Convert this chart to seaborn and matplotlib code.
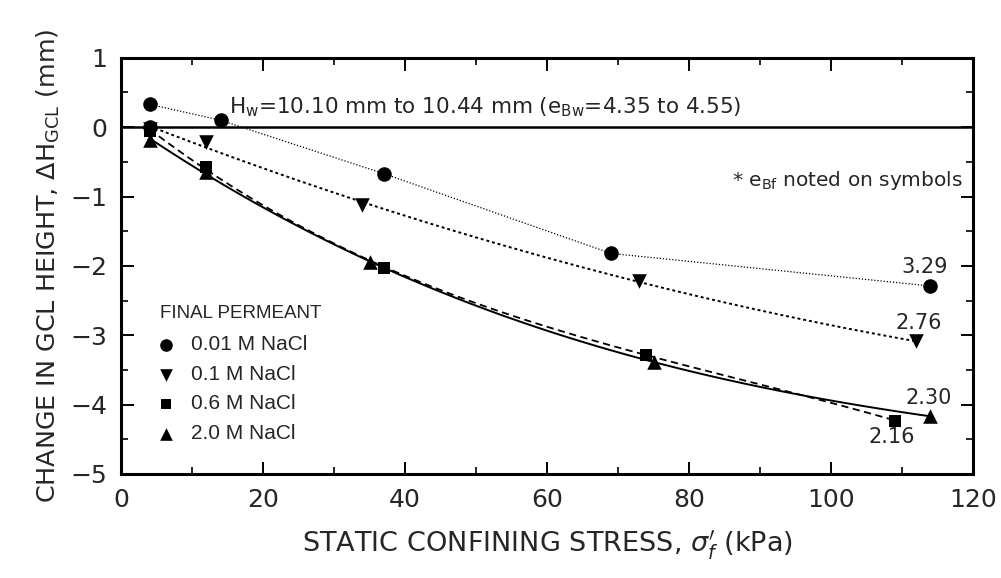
import matplotlib
matplotlib.use("Agg")
import matplotlib.pyplot as plt
import seaborn as sns
import pandas as pd
from matplotlib.ticker import MultipleLocator

# ---- data ----
stress_001 = [4, 14, 37, 69, 114]
dh_001 = [0.33, 0.10, -0.67, -1.82, -2.29]
start_001_x = [4]
start_001_y = [0.0]
stress_01 = [4, 12, 34, 73, 112]
dh_01 = [-0.03, -0.22, -1.12, -2.22, -3.09]
stress_06 = [4, 12, 37, 74, 109]
dh_06 = [-0.05, -0.58, -2.03, -3.28, -4.23]
stress_20 = [4, 12, 35, 75, 114]
dh_20 = [-0.18, -0.65, -1.95, -3.38, -4.17]

series_names = ["0.01 M NaCl", "0.1 M NaCl", "0.6 M NaCl", "2.0 M NaCl"]
ebf_labels = ["3.29", "2.76", "2.16", "2.30"]

sns.set_style("ticks")
plt.rcParams['font.family'] = ['DejaVu Sans']
plt.rcParams['mathtext.fontset'] = 'dejavusans'

fig = plt.figure(figsize=(10.01, 5.78), dpi=100)
ax = fig.add_axes([0.121, 0.18, 0.851, 0.72])

styles = [
    dict(x=stress_001, y=dh_001, marker="o", ls=(0, (1, 1.5)), lw=0.9, ms=110, order=None),
    dict(x=stress_01, y=dh_01, marker="v", ls=(0, (1.5, 1.5)), lw=1.4, ms=110, order=3),
    dict(x=stress_06, y=dh_06, marker="s", ls=(0, (4, 2.5)), lw=1.3, ms=80, order=3),
    dict(x=stress_20, y=dh_20, marker="^", ls="-", lw=1.4, ms=110, order=3),
]

for name, st in zip(series_names, styles):
    df = pd.DataFrame({"x": st["x"], "y": st["y"]})
    if st["order"] is None:
        sns.lineplot(data=df, x="x", y="y", ax=ax, color="black", lw=st["lw"],
                     ls=st["ls"], sort=True)
    else:
        sns.regplot(data=df, x="x", y="y", order=st["order"], ci=None, scatter=False, ax=ax,
                    truncate=True,
                    line_kws=dict(color="black", lw=st["lw"], ls=st["ls"]))
    sns.scatterplot(data=df, x="x", y="y", marker=st["marker"], s=st["ms"],
                    color="black", edgecolor="black", linewidth=0, ax=ax, zorder=5)

sns.scatterplot(x=start_001_x, y=start_001_y, marker="o", s=110, color="black",
                linewidth=0, ax=ax, zorder=5)

ax.axhline(0, color="black", lw=1.8, zorder=2)

ax.set_xlim(0, 120)
ax.set_ylim(-5, 1)
ax.xaxis.set_major_locator(MultipleLocator(20))
ax.xaxis.set_minor_locator(MultipleLocator(10))
ax.yaxis.set_major_locator(MultipleLocator(1))
ax.yaxis.set_minor_locator(MultipleLocator(0.5))
ax.tick_params(which="both", direction="in", top=True, right=True, color="black")
ax.tick_params(which="major", length=9, width=1.4, labelsize=18, pad=10)
ax.tick_params(which="minor", length=5, width=1.2)
for sp in ax.spines.values():
    sp.set_linewidth(2.2)
    sp.set_color("black")

ax.set_xlabel(r"STATIC CONFINING STRESS, $\sigma^{\prime}_{f}$ (kPa)", fontsize=19.5, labelpad=12)
ax.set_ylabel(r"CHANGE IN GCL HEIGHT, $\Delta$H$_\mathregular{GCL}$ (mm)", fontsize=18.3, labelpad=6)

ax.text(15.2, 0.29, r"H$_\mathregular{w}$=10.10 mm to 10.44 mm (e$_\mathregular{Bw}$=4.35 to 4.55)",
        fontsize=15.5, va="center", ha="left")
ax.text(118.6, -0.77, r"* e$_\mathregular{Bf}$ noted on symbols", fontsize=14.5, va="center", ha="right")

label_pos = [(113.2, -2.02), (112.4, -2.83), (108.6, -4.47), (113.7, -3.90)]
for lab, (lx, ly) in zip(ebf_labels, label_pos):
    ax.text(lx, ly, lab, fontsize=15, ha="center", va="center")

# legend block
ax.text(5.5, -2.68, "FINAL PERMEANT", fontsize=13.5, va="center", ha="left",
        family="Liberation Sans")
leg_y = [-3.14, -3.57, -3.99, -4.42]
for (name, st), yy in zip(zip(series_names, styles), leg_y):
    sns.scatterplot(x=[6.3], y=[yy], marker=st["marker"], s=st["ms"] * 0.75, color="black",
                    linewidth=0, ax=ax, zorder=5)
    ax.text(9.8, yy, name, fontsize=15, va="center", ha="left", family="Liberation Sans")

ax.set_xlim(0, 120)
ax.set_ylim(-5, 1)
ax.set_xlabel(r"STATIC CONFINING STRESS, $\sigma^{\prime}_{f}$ (kPa)", fontsize=19.5, labelpad=12)
ax.set_ylabel(r"CHANGE IN GCL HEIGHT, $\Delta$H$_\mathregular{GCL}$ (mm)", fontsize=18.3, labelpad=6)
fig.savefig("out.png", dpi=100)
